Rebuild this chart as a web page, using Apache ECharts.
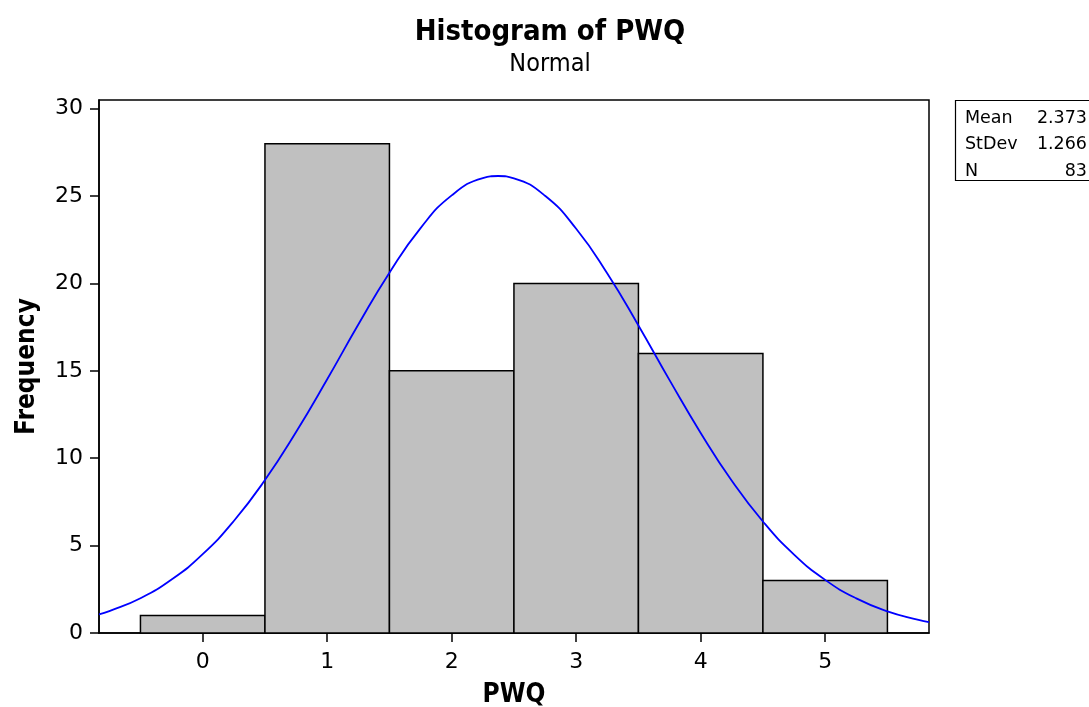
<!DOCTYPE html>
<html>
<head>
<meta charset="utf-8">
<script src="https://cdn.jsdelivr.net/npm/echarts@6/dist/echarts.min.js"></script>
<style>
html,body{margin:0;padding:0;background:#fff;}
#chart{width:1089px;height:707px;}
</style>
</head>
<body>
<div id="chart"></div>
<script>
// Histogram bins (PWQ) and counts
var binStart = [-0.5, 0.5, 1.5, 2.5, 3.5, 4.5];
var binEnd   = [0.5, 1.5, 2.5, 3.5, 4.5, 5.5];
var counts   = [1, 28, 15, 20, 16, 3];

// Fitted normal curve
var curveX = [-0.833, -0.75, -0.5, -0.25, 0, 0.25, 0.5, 0.75, 1, 1.25, 1.5, 1.75, 2, 2.25, 2.373, 2.5, 2.75, 3, 3.25, 3.5, 3.75, 4, 4.25, 4.5, 4.75, 5, 5.25, 5.5, 5.75, 5.834];
var curveY = [1.06, 1.25, 1.99, 3.06, 4.51, 6.41, 8.75, 11.50, 14.52, 17.65, 20.62, 23.17, 25.04, 26.03, 26.15, 26.02, 25.02, 23.13, 20.57, 17.60, 14.47, 11.45, 8.71, 6.38, 4.49, 3.04, 1.98, 1.24, 0.75, 0.62];

// Tick labels
var xTicks = [0, 1, 2, 3, 4, 5];
var yTicks = [0, 5, 10, 15, 20, 25, 30];

// Stats table
var statNames = ['Mean', 'StDev', 'N'];
var statValues = ['2.373', '1.266', '83'];

var FONT_C = '"DejaVu Sans Condensed", "DejaVu Sans", sans-serif';
var FONT = '"DejaVu Sans", sans-serif';

var histData = binStart.map(function (s, i) { return [s, binEnd[i], counts[i]]; });
var lineData = curveX.map(function (x, i) { return [x, curveY[i]]; });

var graphics = [{
  type: 'rect', shape: {x: 955.5, y: 100.5, width: 150, height: 80},
  style: {fill: '#fff', stroke: '#000', lineWidth: 1.2}
}];
statNames.forEach(function (n, i) {
  graphics.push({type: 'text', x: 965, y: 118 + i * 26.5,
    style: {text: n, font: '17.5px ' + FONT, fill: '#000', textVerticalAlign: 'middle', textAlign: 'left'}});
  graphics.push({type: 'text', x: 1087, y: 118 + i * 26.5,
    style: {text: statValues[i], font: '17.5px ' + FONT, fill: '#000', textVerticalAlign: 'middle', textAlign: 'right'}});
});

var chart = echarts.init(document.getElementById('chart'), null, {renderer: 'canvas'});
chart.setOption({
  animation: false,
  backgroundColor: '#fff',
  title: {
    text: 'Histogram of PWQ',
    subtext: 'Normal',
    left: 545,
    textAlign: 'center',
    top: 13,
    itemGap: 5,
    textStyle: {fontFamily: FONT_C, fontWeight: 'bold', fontSize: 29, color: '#000'},
    subtextStyle: {fontFamily: FONT_C, fontSize: 25, color: '#000'}
  },
  grid: {left: 99, right: 160, top: 100, bottom: 74, outerBoundsMode: 'none', containLabel: false,
    show: true, borderColor: '#000', borderWidth: 1.5, backgroundColor: '#fff'},
  xAxis: {
    type: 'value', min: -0.833, max: 5.834,
    name: 'PWQ', nameLocation: 'middle', nameGap: 49,
    nameTextStyle: {fontFamily: FONT_C, fontWeight: 'bold', fontSize: 26, color: '#000'},
    axisLine: {show: true, onZero: false, lineStyle: {color: '#000', width: 1.5}},
    axisTick: {show: true, length: 9, customValues: xTicks, lineStyle: {color: '#000', width: 1.5}},
    axisLabel: {customValues: xTicks, fontFamily: FONT, fontSize: 22, color: '#000', margin: 18},
    splitLine: {show: false}
  },
  yAxis: {
    type: 'value', min: 0, max: 30.5,
    name: 'Frequency', nameLocation: 'middle', nameGap: 59, nameRotate: 90,
    nameTextStyle: {fontFamily: FONT_C, fontWeight: 'bold', fontSize: 26, color: '#000'},
    axisLine: {show: true, onZero: false, lineStyle: {color: '#000', width: 1.5}},
    axisTick: {show: true, length: 9, customValues: yTicks, lineStyle: {color: '#000', width: 1.5}},
    axisLabel: {customValues: yTicks, fontFamily: FONT, fontSize: 22, color: '#000', margin: 16},
    splitLine: {show: false}
  },
  series: [{
    type: 'custom',
    data: histData,
    encode: {x: [0, 1], y: 2},
    renderItem: function (params, api) {
      var p0 = api.coord([api.value(0), 0]);
      var p1 = api.coord([api.value(1), api.value(2)]);
      return {
        type: 'rect',
        shape: {x: p0[0], y: p1[1], width: p1[0] - p0[0], height: p0[1] - p1[1]},
        style: {fill: '#c0c0c0', stroke: '#000', lineWidth: 1.5}
      };
    },
    z: 2
  }, {
    type: 'line',
    data: lineData,
    smooth: true,
    showSymbol: false,
    lineStyle: {color: '#0000ff', width: 1.8},
    z: 3
  }],
  graphic: graphics
});
</script>
</body>
</html>
